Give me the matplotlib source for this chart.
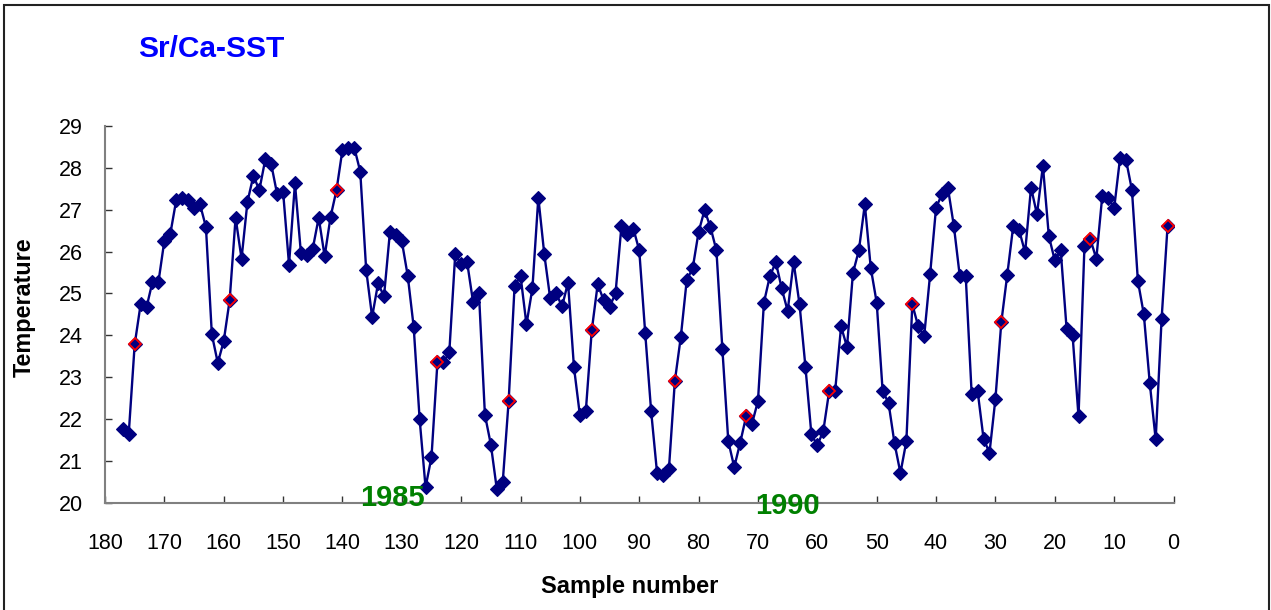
import matplotlib
matplotlib.use("Agg")
import matplotlib.pyplot as plt
from matplotlib.patches import Rectangle

plt.rcParams['font.family'] = ['Liberation Sans', 'DejaVu Sans']

# Sample numbers (177 down to 1) and Sr/Ca-derived SST values
sample = list(range(177, 0, -1))
sst = [
    21.77, 21.65, 23.78, 24.74, 24.67, 25.28, 25.27, 26.26, 26.42, 27.23,
    27.29, 27.23, 27.03, 27.13, 26.59, 24.02, 23.34, 23.86, 24.84, 26.81,
    25.83, 27.19, 27.81, 27.47, 28.20, 28.09, 27.37, 27.43, 25.69, 27.63,
    25.97, 25.91, 26.07, 26.81, 25.89, 26.83, 27.47, 28.43, 28.48, 28.48,
    27.91, 25.56, 24.44, 25.24, 24.93, 26.47, 26.40, 26.25, 25.42, 24.20,
    22.00, 20.37, 21.09, 23.35, 23.35, 23.59, 25.94, 25.70, 25.75, 24.80,
    25.00, 22.10, 21.39, 20.33, 20.49, 22.43, 25.18, 25.42, 24.26, 25.12,
    27.29, 25.94, 24.88, 25.00, 24.69, 25.26, 23.24, 22.09, 22.19, 24.12,
    25.22, 24.84, 24.68, 25.00, 26.61, 26.43, 26.55, 26.03, 24.06, 22.19,
    20.71, 20.67, 20.81, 22.91, 23.96, 25.32, 25.60, 26.47, 26.99, 26.58,
    26.03, 23.68, 21.47, 20.85, 21.43, 22.06, 21.89, 22.43, 24.78, 25.41,
    25.75, 25.12, 24.58, 25.75, 24.74, 23.24, 21.63, 21.37, 21.71, 22.67,
    22.67, 24.21, 23.72, 25.49, 26.03, 27.13, 25.61, 24.78, 22.67, 22.38,
    21.42, 20.71, 21.47, 24.74, 24.21, 23.98, 25.46, 27.05, 27.37, 27.52,
    26.61, 25.41, 25.41, 22.59, 22.67, 21.53, 21.19, 22.48, 24.32, 25.45,
    26.61, 26.51, 25.98, 27.53, 26.89, 28.05, 26.37, 25.79, 26.03, 24.14,
    24.00, 22.06, 26.13, 26.29, 25.83, 27.33, 27.29, 27.03, 28.24, 28.19,
    27.47, 25.30, 24.50, 22.86, 21.51, 24.40, 26.61,
]
# samples highlighted with red-edged markers
highlight = [175, 159, 141, 124, 112, 98, 84, 72, 58, 44, 29, 14, 1]

year_labels = ["1985", "1990"]
year_x = [131.6, 65.1]
year_y = [20.12, 19.93]

x_ticks = list(range(180, -1, -10))
y_ticks = list(range(20, 30))

navy = '#000080'

fig = plt.figure(figsize=(12.71, 6.10), dpi=100)
ax = fig.add_axes([105/1271, 1-502.7/610, (1173.5-105)/1271, (502.7-126)/610])

ax.plot(sample, sst, '-', color=navy, lw=1.7, zorder=2)
ax.plot(sample, sst, 'D', color=navy, ms=6.8, mec=navy, mew=0.8,
        linestyle='none', zorder=3)
hx = [s for s in highlight]
hy = [sst[sample.index(s)] for s in highlight]
ax.plot(hx, hy, 'D', mfc=navy, mec='red', ms=6.6, mew=1.3,
        linestyle='none', zorder=4)

ax.set_xlim(180, 0)
ax.set_ylim(20, 29)
ax.set_xticks(x_ticks)
ax.set_yticks(y_ticks)
ax.tick_params(axis='both', direction='in', length=5, width=1,
               color='#333333', labelsize=15.5, labelcolor='black')
ax.tick_params(axis='x', pad=22)
ax.tick_params(axis='y', pad=16)

for sp in ['top', 'right']:
    ax.spines[sp].set_visible(False)
for sp in ['left', 'bottom']:
    ax.spines[sp].set_color('#808080')
    ax.spines[sp].set_linewidth(1.5)

for lab, xx, yy in zip(year_labels, year_x, year_y):
    ax.text(xx, yy, lab, color='#008000', fontsize=21, fontweight='bold',
            ha='center', va='center', zorder=5, clip_on=False)

fig.text(24/1271, 1-307/610, 'Temperature', rotation=90, fontsize=16.8,
         fontweight='bold', ha='center', va='center')
fig.text(630/1271, 1-586/610, 'Sample number', fontsize=17,
         fontweight='bold', ha='center', va='center')
fig.text(138/1271, 1-49/610, 'Sr/Ca-SST', fontsize=21.5, fontweight='bold',
         color='#0000FF', ha='left', va='center')

fig.patches.append(Rectangle((4/1271, -0.05), (1269-4)/1271, 1.05-5/610,
                             transform=fig.transFigure, fill=False,
                             edgecolor='#222222', lw=1.5, clip_on=False))

fig.savefig('out.png', dpi=100, facecolor='white')
